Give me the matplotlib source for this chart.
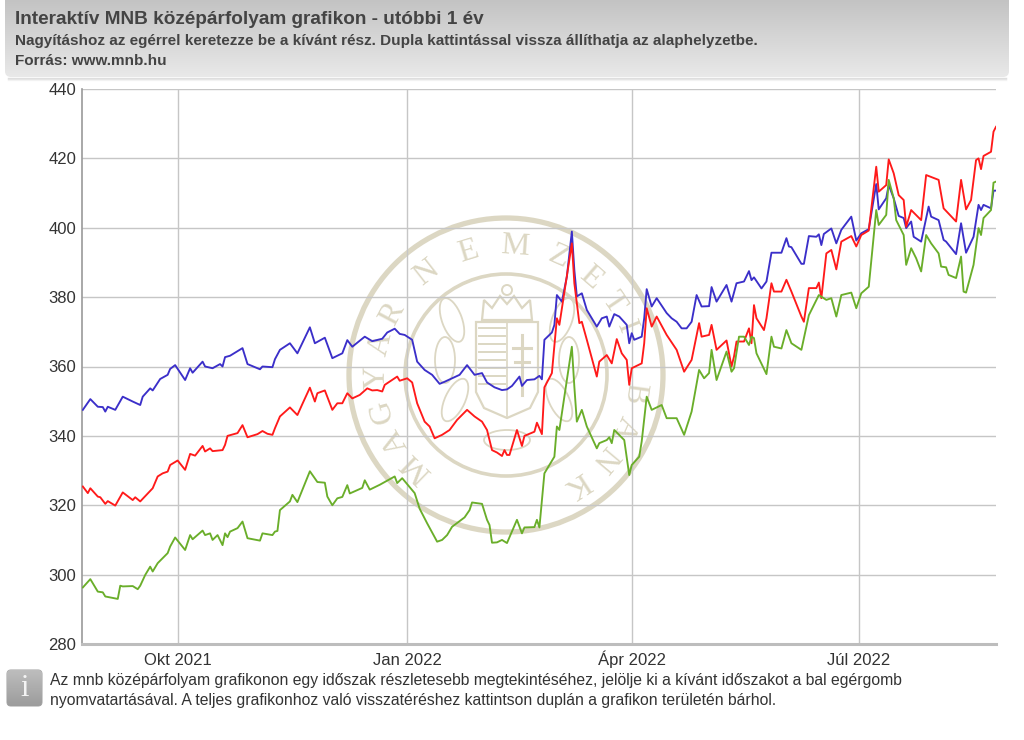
import numpy as np
import matplotlib
matplotlib.use("Agg")
import matplotlib.pyplot as plt
from matplotlib.patches import FancyBboxPatch, Circle, Polygon, Ellipse

# ---------------- data (day offsets from 2021-10-01, HUF rates) ----------------
base_date = "2021-10-01"

blue_days = [-38, -35, -32, -30, -29, -28, -25, -22, -18, -15, -14, -11, -10, -7, -4, -3, -1,
             3, 5, 6, 10, 11, 14, 17, 18, 19, 21, 26, 28, 33, 34, 38, 39, 41, 45, 48, 53, 55,
             59, 62, 66, 68, 70, 75, 78, 82, 84, 87, 89, 91, 94, 96, 99, 102, 105, 107, 110,
             113, 116, 119, 122, 124, 127, 130, 132, 134, 137, 138, 140, 143, 145, 146, 147,
             150, 151, 152, 154, 156, 158, 159, 160, 162, 164, 168, 170, 172, 173, 175, 177,
             180, 181, 182, 183, 186, 187, 188, 190, 192, 196, 198, 200, 202, 204, 206, 208,
             210, 213, 214, 216, 220, 222, 224, 227, 229, 230, 231, 234, 236, 238, 242, 244,
             245, 246, 250, 251, 253, 256, 257, 258, 259, 262, 264, 266, 270, 272, 274, 277,
             280, 281, 284, 285, 287, 289, 291, 292, 294, 295, 298, 301, 302, 305, 307, 308,
             312, 314, 316, 319, 321, 322, 323, 326, 327, 328]
blue_vals = [347.5, 350.6, 348.4, 348.3, 347.0, 348.4, 347.5, 351.3, 349.9, 348.9, 351.3, 353.7,
             353.1, 356.4, 357.6, 359.3, 360.4,
             356.1, 359.5, 358.2, 361.4, 360.0, 359.5, 360.7, 360.0, 362.7, 363.1, 365.3, 360.7,
             359.2, 360.0, 359.8, 362.1, 364.8, 366.7, 363.8, 371.3, 366.7,
             368.3, 362.4, 363.8, 367.6, 365.7, 368.6, 367.3, 368.0, 369.8, 370.9, 369.4, 369.1,
             367.7, 361.4, 359.0, 357.6, 355.0, 355.6, 356.6,
             357.6, 360.4, 357.6, 358.1, 355.4, 354.0, 353.2, 353.4, 354.4, 357.1, 354.4, 356.1,
             356.3, 357.3, 356.3, 367.7,
             369.8, 372.0, 380.6, 378.7, 385.9, 398.9, 387.8, 380.2, 381.1, 376.3, 371.5, 373.9,
             374.4, 371.5, 375.1, 374.4,
             372.0, 366.7, 369.6, 367.7, 368.6, 373.9, 382.3, 377.3, 379.7, 375.4, 373.9, 372.9,
             371.0, 371.0, 372.9, 380.6,
             377.3, 377.4, 382.9, 378.7, 383.5, 378.7, 384.0, 384.5, 387.5, 384.9, 385.7, 382.5,
             384.5, 392.8, 392.8, 397.0,
             394.6, 394.4, 389.6, 389.6, 397.6, 397.4, 398.1, 395.0, 398.2, 399.8, 395.5, 399.4,
             403.2, 396.3, 398.4, 399.6,
             412.6, 405.3, 408.5, 412.3, 408.5, 403.4, 402.8, 399.9, 401.8, 397.4, 396.0, 406.1,
             403.2, 402.2, 396.5, 396.0,
             392.4, 401.3, 392.8, 397.4, 406.6, 405.1, 406.6, 405.6, 410.7, 410.7]

red_days = [-38, -36, -35, -32, -31, -29, -28, -25, -22, -18, -17, -15, -10, -8, -6, -4, -3, 0,
            3, 5, 7, 10, 11, 13, 14, 18, 19, 20, 24, 26, 28, 32, 34, 36, 38, 39, 41, 45, 48, 50,
            53, 55, 56, 59, 62, 64, 66, 68, 70, 73, 76, 78, 80, 82, 83, 88, 89, 92, 94, 96, 99,
            101, 103, 106, 109, 112, 116, 119, 122, 124, 126, 128, 130, 131, 132, 133, 136, 138,
            139, 143, 144, 146, 147, 150, 152, 153, 158, 159, 161, 162, 164, 168, 169, 172, 174,
            176, 178, 180, 181, 182, 186, 187, 188, 190, 192, 196, 200, 203, 206, 209, 210, 213,
            214, 216, 220, 222, 223, 224, 227, 229, 230, 231, 232, 235, 236, 238, 239, 242, 244,
            246, 250, 251, 253, 256, 257, 258, 260, 262, 264, 266, 270, 272, 274, 277, 280, 281,
            284, 285, 287, 289, 291, 292, 294, 298, 300, 305, 307, 312, 314, 316, 318, 320, 321,
            322, 323, 326, 327, 328]
red_vals = [325.4, 323.5, 324.9, 322.5, 322.3, 320.4, 321.2, 319.9, 323.7, 321.5, 322.3, 321.1,
            324.9, 328.3, 329.2, 329.7, 331.6, 332.9,
            330.2, 334.8, 334.3, 337.1, 335.5, 336.4, 335.6, 335.9, 337.4, 340.0, 340.8, 343.1,
            339.6, 340.5, 341.4, 340.6, 340.3, 342.2, 345.6, 348.2, 346.0, 349.2,
            353.9, 349.9, 352.3, 353.1, 347.5, 349.4, 349.4, 352.3, 350.8, 351.8, 353.7, 353.1,
            353.2, 352.8, 354.7, 357.1, 355.9, 356.6, 355.4, 349.4, 344.1,
            342.7, 339.3, 340.3, 341.7, 344.6, 347.5, 345.6, 344.1, 341.7, 335.9, 335.2, 334.2,
            335.9, 334.5, 334.5, 341.7, 337.1,
            340.0, 341.2, 343.8, 340.5, 354.0, 358.1, 373.9, 372.0, 395.5, 384.0, 372.5, 372.9,
            367.7, 357.1, 361.4, 363.3, 360.9,
            367.9, 363.8, 361.9, 354.7, 359.5, 360.9, 366.7, 376.8, 371.5, 374.4, 369.1, 364.8,
            358.5, 361.9, 372.5, 368.6, 369.1,
            372.0, 364.8, 367.5, 360.0, 362.9, 367.2, 367.2, 371.0, 366.7, 377.7, 373.9, 370.5,
            373.9, 384.0, 381.6, 381.6, 385.0,
            381.6, 374.4, 372.9, 382.6, 382.6, 384.2, 379.7, 392.6, 393.6, 388.0, 396.0, 397.6,
            394.6, 397.9, 399.2, 417.6, 410.4,
            412.3, 419.7, 415.7, 409.4, 408.0, 400.3, 405.1, 402.2, 415.2, 413.8, 405.6, 401.8,
            413.8, 405.3, 408.0, 419.5, 420.0,
            416.9, 420.7, 421.9, 427.7, 429.1]

green_days = [-38, -35, -32, -30, -29, -24, -23, -22, -18, -16, -15, -13, -11, -10, -8, -4, -3,
              -1, 3, 5, 6, 10, 11, 13, 14, 16, 18, 19, 20, 21, 24, 26, 28, 33, 34, 38, 39, 40,
              41, 45, 46, 48, 53, 56, 59, 60, 62, 64, 66, 68, 69, 74, 75, 77, 81, 87, 88, 90,
              95, 97, 100, 104, 106, 108, 110, 115, 117, 118, 122, 124, 125, 126, 128, 130, 132,
              136, 138, 139, 143, 144, 145, 147, 149, 151, 152, 153, 158, 159, 160, 162, 164,
              168, 169, 172, 173, 174, 175, 179, 181, 182, 185, 186, 188, 190, 194, 196, 200,
              203, 206, 209, 211, 213, 214, 216, 220, 222, 223, 225, 227, 229, 230, 231, 232,
              236, 238, 239, 242, 244, 246, 250, 253, 255, 257, 260, 262, 264, 266, 270, 272,
              274, 277, 280, 281, 284, 285, 287, 288, 291, 292, 294, 296, 298, 300, 302, 305,
              306, 308, 309, 312, 314, 315, 316, 319, 321, 322, 323, 326, 327, 328]
green_vals = [296.3, 298.7, 295.1, 294.9, 293.7, 293.0, 296.8, 296.6, 296.7, 295.8, 296.8, 299.9,
              302.3, 300.9, 303.3, 306.2, 308.1,
              310.7, 307.1, 311.4, 310.2, 312.7, 311.4, 311.9, 310.0, 311.4, 308.5, 311.9, 310.8,
              312.4, 313.4, 315.3, 310.5, 309.8, 311.9, 311.4, 312.4, 312.6,
              318.6, 321.1, 323.0, 320.9, 329.8, 326.7, 326.5, 322.5, 320.0, 322.0, 322.4, 325.8,
              323.4, 325.0, 327.2, 324.5, 325.9, 328.3, 326.4, 327.8,
              323.5, 319.0, 314.8, 309.5, 310.0, 311.4, 313.8, 316.5, 318.6, 320.8, 320.4, 315.8,
              314.3, 309.2, 309.3, 310.0, 309.1,
              315.8, 311.9, 313.6, 313.7, 315.8, 313.6, 329.2, 331.6, 334.0, 342.7, 341.7, 365.7,
              354.2, 344.1, 347.5, 342.7,
              336.4, 337.9, 338.8, 339.6, 337.9, 341.7, 338.8, 328.7, 331.6, 334.0, 338.4, 351.3,
              347.5, 348.9, 345.1, 345.1,
              340.3, 347.0, 359.0, 356.6, 358.1, 364.8, 356.1, 364.3, 358.5, 359.5, 368.6, 368.6,
              366.2, 368.6, 368.2, 363.8,
              357.8, 368.6, 365.7, 365.2, 370.5, 366.7, 364.8, 374.8, 377.7, 380.6, 379.2, 379.7,
              374.4, 380.6, 381.3, 376.8,
              381.1, 383.0, 405.1, 400.8, 403.7, 413.8, 408.5, 402.2, 397.9, 389.3, 394.1, 391.2,
              387.4, 397.9, 395.5, 392.6,
              388.8, 388.6, 386.4, 385.5, 391.7, 381.6, 381.3, 389.3, 399.9, 397.9, 402.8, 405.1,
              413.0, 413.3]

tick_dates = ["2021-10-01", "2022-01-01", "2022-04-01", "2022-07-01"]
tick_labels = ["Okt 2021", "Jan 2022", "Ápr 2022", "Júl 2022"]
y_ticks = [280, 300, 320, 340, 360, 380, 400, 420, 440]

title = "Interaktív MNB középárfolyam grafikon - utóbbi 1 év"
subtitle = "Nagyításhoz az egérrel keretezze be a kívánt rész. Dupla kattintással vissza állíthatja az alaphelyzetbe."
source = "Forrás: www.mnb.hu"
note1 = "Az mnb középárfolyam grafikonon egy időszak részletesebb megtekintéséhez, jelölje ki a kívánt időszakot a bal egérgomb"
note2 = "nyomvatartásával. A teljes grafikonhoz való visszatéréshez kattintson duplán a grafikon területén bárhol."

assert len(blue_days) == len(blue_vals)
assert len(red_days) == len(red_vals)
assert len(green_days) == len(green_vals)

plt.rcParams['font.family'] = ['Liberation Sans', 'DejaVu Sans']

W, H = 1024, 740
fig = plt.figure(figsize=(W / 100, H / 100), dpi=100)
fig.patch.set_facecolor("white")

# background overlay axes in pixel coordinates
bg = fig.add_axes([0, 0, 1, 1], zorder=0)
bg.set_xlim(0, W)
bg.set_ylim(H, 0)
bg.axis("off")

# header box with gradient
hdr = FancyBboxPatch((5, -8), 1004, 85, boxstyle="round,pad=0,rounding_size=6",
                     fc="none", ec="none")
bg.add_patch(hdr)
grad = np.linspace(0, 1, 256).reshape(-1, 1)
cmap = matplotlib.colors.LinearSegmentedColormap.from_list("g", ["#c3c3c3", "#e9e9e9"])
im = bg.imshow(grad, extent=[5, 1009, 77, 0], cmap=cmap, aspect="auto", zorder=1)
im.set_clip_path(hdr)
for i, a in enumerate([0.25, 0.15, 0.07]):
    bg.plot([8, 1006], [78 + i, 78 + i], color="#888888", alpha=a, lw=1, zorder=0.5)

bg.text(15, 19, title, fontsize=13.7, fontweight="bold", color="#444444", va="center", ha="left", zorder=3)
bg.text(15, 41, subtitle, fontsize=11.0, fontweight="bold", color="#444444", va="center", ha="left", zorder=3)
bg.text(15, 61, source, fontsize=11.0, fontweight="bold", color="#444444", va="center", ha="left", zorder=3)

# watermark seal
seal = "#dcd7c3"
cx, cy = 506, 375
bg.add_patch(Circle((cx, cy), 157, fill=False, ec=seal, lw=3.8, zorder=1))
bg.add_patch(Circle((cx, cy), 101, fill=False, ec=seal, lw=2.6, zorder=1))
letters = [("M", 226), ("A", 211), ("G", 196), ("Y", 181), ("A", 166), ("R", 152),
           ("N", 128), ("E", 107), ("M", 86), ("Z", 66), ("E", 49), ("T", 34), ("I", 22),
           ("B", -8), ("A", -24), ("N", -40), ("K", -57)]
for ch, th in letters:
    t = np.deg2rad(th)
    r = 129
    bg.text(cx + r * np.cos(t), cy - r * np.sin(t), ch, fontsize=23, family="Liberation Serif",
            color=seal, rotation=th - 90, rotation_mode="anchor", ha="center", va="center", zorder=1)
# stylised coat of arms
shield = Polygon([[476, 322], [538, 322], [538, 392], [530, 408], [507, 418], [484, 408], [476, 392]],
                 closed=True, fill=False, ec=seal, lw=1.6, zorder=1)
bg.add_patch(shield)
bg.plot([507, 507], [322, 416], color=seal, lw=1.2, zorder=1)
for yy in range(328, 392, 8):
    bg.plot([479, 505], [yy, yy], color=seal, lw=1.4, zorder=1)
bg.plot([522, 522], [335, 395], color=seal, lw=2.2, zorder=1)
bg.plot([513, 531], [348, 348], color=seal, lw=2.2, zorder=1)
bg.plot([515, 529], [362, 362], color=seal, lw=2.2, zorder=1)
crown = Polygon([[482, 320], [484, 300], [492, 308], [500, 296], [507, 304], [514, 296],
                 [522, 308], [530, 300], [532, 320]], closed=True, fill=False, ec=seal, lw=1.6, zorder=1)
bg.add_patch(crown)
bg.add_patch(Circle((507, 290), 5, fill=False, ec=seal, lw=1.4, zorder=1))
for (ex, ey, ang) in [(452, 320, 70), (445, 360, 90), (455, 400, 115), (562, 320, 110),
                      (569, 360, 90), (559, 400, 65), (507, 440, 0)]:
    bg.add_patch(Ellipse((ex, ey), 46, 20, angle=ang, fill=False, ec=seal, lw=1.3, zorder=1))

# info icon
icon = FancyBboxPatch((7, 670), 35, 36, boxstyle="round,pad=0,rounding_size=4", fc="none", ec="#aaaaaa", lw=0.8)
bg.add_patch(icon)
grad2 = np.linspace(0, 1, 64).reshape(-1, 1)
cmap2 = matplotlib.colors.LinearSegmentedColormap.from_list("i", ["#bdbdbd", "#9c9c9c"])
im2 = bg.imshow(grad2, extent=[7, 42, 706, 670], cmap=cmap2, aspect="auto", zorder=1)
im2.set_clip_path(icon)
bg.text(24.5, 689, "i", fontsize=22, family="Liberation Serif", color="#f4f4f4",
        ha="center", va="center", zorder=2)
bg.text(50, 681, note1, fontsize=11.3, color="#333333", ha="left", va="center", zorder=2)
bg.text(50, 701, note2, fontsize=11.3, color="#333333", ha="left", va="center", zorder=2)

# ---------------- main chart ----------------
ax = fig.add_axes([82 / W, 1 - 644 / H, (996 - 82) / W, (644 - 89) / H], zorder=2)
ax.set_facecolor("none")

b0 = np.datetime64(base_date)
def to_dates(days):
    return b0 + np.array(days, dtype="timedelta64[D]")

ax.plot(to_dates(blue_days), blue_vals, color="#3b2fc9", lw=1.35, zorder=3)
ax.plot(to_dates(red_days), red_vals, color="#ff1a1a", lw=1.35, zorder=3)
ax.plot(to_dates(green_days), green_vals, color="#6aae2a", lw=1.35, zorder=3)

ax.set_xlim(b0 + np.timedelta64(-38, "D") - np.timedelta64(8, "h"), b0 + np.timedelta64(328, "D"))
ax.set_ylim(280, 440)
ax.set_yticks(y_ticks)
ax.set_xticks([np.datetime64(d) for d in tick_dates])
ax.set_xticklabels(tick_labels)
ax.grid(True, color="#c6c6c6", lw=1.0, zorder=1)
ax.set_axisbelow(True)
ax.tick_params(axis="both", length=0, labelsize=12, colors="#333333")
ax.tick_params(axis="y", pad=4)
ax.tick_params(axis="x", pad=15)
for lbl in ax.get_xticklabels():
    lbl.set_verticalalignment("baseline")
for s in ["top", "right"]:
    ax.spines[s].set_visible(False)
ax.spines["left"].set_color("#9a9a9a")
ax.spines["left"].set_linewidth(1.2)
ax.spines["bottom"].set_color("#bdbdbd")
ax.spines["bottom"].set_linewidth(2.2)

fig.savefig("out.png", dpi=100, facecolor="white")
